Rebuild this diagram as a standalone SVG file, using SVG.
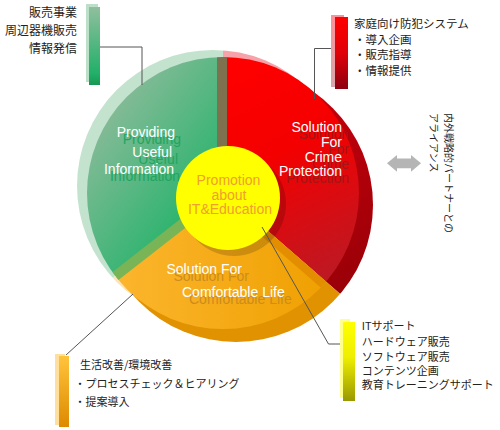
<svg xmlns="http://www.w3.org/2000/svg" xmlns:xlink="http://www.w3.org/1999/xlink" width="500" height="430" viewBox="0 0 500 430">
<style>
.lat{font-family:"Liberation Sans",Arial,sans-serif;font-size:14px}
.w{fill:#ffffff}
.shG{fill:#22a55f}
.shR{fill:#a31616}
.shO{fill:#cc8c1e}
.jp{font-family:"Noto Sans CJK JP","Noto Sans CJK SC",sans-serif;fill:#222222}
.conn{fill:none;stroke:#555555;stroke-width:1}
</style>
<defs>
<path id="wR" d="M223,192 L223,-28 A220,220 0 0 1 389,336.3 Z"/>
<path id="wO" d="M223,192 L389,336.3 A220,220 0 0 1 49.6,327.4 Z"/>
<path id="wG" d="M223,192 L49.6,327.4 A220,220 0 0 1 223,-28 Z"/>
<clipPath id="cBack"><circle cx="213" cy="186" r="136"/></clipPath>
<clipPath id="cRim"><circle cx="236" cy="205" r="137"/></clipPath>
<clipPath id="cFace"><circle cx="223" cy="193" r="136"/></clipPath>
<linearGradient id="gGface" gradientUnits="userSpaceOnUse" x1="95" y1="110" x2="215" y2="200">
<stop offset="0" stop-color="#8dbb9b"/><stop offset="1" stop-color="#24b36a"/></linearGradient>
<linearGradient id="gRface" gradientUnits="userSpaceOnUse" x1="235" y1="60" x2="345" y2="290">
<stop offset="0" stop-color="#ff0000"/><stop offset="0.4" stop-color="#f40000"/><stop offset="1" stop-color="#b51c28"/></linearGradient>
<linearGradient id="gOface" gradientUnits="userSpaceOnUse" x1="110" y1="0" x2="330" y2="0">
<stop offset="0" stop-color="#fcb62f"/><stop offset="1" stop-color="#efa000"/></linearGradient>
<linearGradient id="gRrim" gradientUnits="userSpaceOnUse" x1="300" y1="100" x2="370" y2="280">
<stop offset="0" stop-color="#c4000c"/><stop offset="1" stop-color="#9a0008"/></linearGradient>
<linearGradient id="gBarG" x1="0" y1="0" x2="0" y2="1">
<stop offset="0" stop-color="#90bf9e"/><stop offset="0.85" stop-color="#22b068"/><stop offset="1" stop-color="#179852"/></linearGradient>
<linearGradient id="gBarR" x1="0" y1="0" x2="0" y2="1">
<stop offset="0" stop-color="#ff0000"/><stop offset="0.5" stop-color="#e00008"/><stop offset="1" stop-color="#8c0010"/></linearGradient>
<linearGradient id="gBarY" x1="0" y1="0" x2="0" y2="1">
<stop offset="0" stop-color="#ffff00"/><stop offset="0.45" stop-color="#eeee00"/><stop offset="1" stop-color="#9a9800"/></linearGradient>
<linearGradient id="gBarO" x1="0" y1="0" x2="0" y2="1">
<stop offset="0" stop-color="#ffc43c"/><stop offset="1" stop-color="#dd8a00"/></linearGradient>
<linearGradient id="gLbarR" x1="0" y1="0" x2="0" y2="1">
<stop offset="0" stop-color="#ff8f98"/><stop offset="1" stop-color="#d9a6ac"/></linearGradient>
</defs>

<g id="segment-info">
<use xlink:href="#wG" clip-path="url(#cBack)" fill="#c4e3cf"/>
<use xlink:href="#wG" clip-path="url(#cRim)" fill="#1f9d5a"/>
<use xlink:href="#wG" clip-path="url(#cFace)" fill="url(#gGface)"/>
<g class="lat shG" text-anchor="end">
<text x="181" y="144">Providing</text>
<text x="178" y="163.5">Useful</text>
<text x="180" y="181">Information</text>
</g>
<g class="lat w" text-anchor="end">
<text x="175" y="137">Providing</text>
<text x="172" y="156.5">Useful</text>
<text x="174" y="174">Information</text>
</g>
</g>

<g id="segment-crime">
<use xlink:href="#wR" clip-path="url(#cBack)" fill="#f7a2a9"/>
<use xlink:href="#wR" clip-path="url(#cRim)" fill="url(#gRrim)"/>
<use xlink:href="#wR" clip-path="url(#cFace)" fill="url(#gRface)"/>
<g class="lat shR" text-anchor="end">
<text x="349" y="139">Solution</text>
<text x="349" y="154">For</text>
<text x="349" y="168.5">Crime</text>
<text x="349" y="183">Protection</text>
</g>
<g class="lat w" text-anchor="end">
<text x="342" y="132">Solution</text>
<text x="342" y="147">For</text>
<text x="342" y="161.5">Crime</text>
<text x="342" y="176">Protection</text>
</g>
</g>

<g id="segment-life">
<use xlink:href="#wO" clip-path="url(#cBack)" fill="#fde3b5"/>
<use xlink:href="#wO" clip-path="url(#cRim)" fill="#e09200"/>
<use xlink:href="#wO" clip-path="url(#cFace)" fill="url(#gOface)"/>
<g class="lat shO">
<text x="173.5" y="280.5">Solution For</text>
<text x="189" y="304">Comfortable Life</text>
</g>
<g class="lat w">
<text x="166.5" y="273.5">Solution For</text>
<text x="182" y="297">Comfortable Life</text>
</g>
</g>

<g id="dividers" clip-path="url(#cFace)">
<rect x="217" y="50" width="10" height="144" fill="#7e7150"/>
<polygon points="219.9,188.1 46.5,323.5 52.7,331.3 226.1,195.9" fill="#79b456"/>
<polygon points="223,192 389,336.3 383.75,342.3 217.75,198" fill="#e38d00"/>
</g>

<g id="center">
<circle cx="234" cy="204" r="52" fill="#000000" opacity="0.16"/>
<circle cx="228" cy="198" r="52" fill="#ffff00"/>
<g class="lat" fill="#f0a02e" text-anchor="middle">
<text x="228.5" y="185">Promotion</text>
<text x="229" y="199.5">about</text>
<text x="230" y="214">IT&amp;Education</text>
</g>
</g>

<g id="connectors" class="conn">
<polyline points="100,47 142,47 142,85"/>
<polyline points="338,48.5 314.5,48.5 314.5,99"/>
<polyline points="262,227 328.5,344 343,344"/>
<line x1="133" y1="294" x2="66" y2="355"/>
</g>

<g id="callout-info">
<rect x="86" y="4" width="12" height="78" fill="#bcdfc8"/>
<rect x="89" y="7" width="11" height="78" fill="url(#gBarG)"/>
<g class="jp" font-size="12" text-anchor="end">
<text x="77" y="17.3">販売事業</text>
<text x="77" y="35.3">周辺器機販売</text>
<text x="77" y="53">情報発信</text>
</g>
</g>

<g id="callout-crime">
<rect x="331" y="15" width="13" height="72" fill="url(#gLbarR)"/>
<rect x="335" y="17" width="13" height="72" fill="url(#gBarR)"/>
<g class="jp" font-size="11.5">
<text x="354" y="27.7">家庭向け防犯システム</text>
<text x="354" y="43.7">・導入企画</text>
<text x="354" y="58.7">・販売指導</text>
<text x="354" y="75.4">・情報提供</text>
</g>
</g>

<g id="callout-it">
<rect x="340" y="319" width="10" height="79" fill="#ffff90"/>
<rect x="343" y="322" width="12" height="79" fill="url(#gBarY)"/>
<g class="jp" font-size="11">
<text x="361.7" y="330.2">ITサポート</text>
<text x="361.7" y="346.2">ハードウェア販売</text>
<text x="361.7" y="360.5">ソフトウェア販売</text>
<text x="361.7" y="374.7">コンテンツ企画</text>
<text x="361.7" y="388.5">教育トレーニングサポート</text>
</g>
</g>

<g id="callout-life">
<rect x="55" y="354" width="10" height="71" fill="#ffdf9e"/>
<rect x="59" y="356" width="10" height="71" fill="url(#gBarO)"/>
<g class="jp" font-size="11">
<text x="80" y="369.2">生活改善/環境改善</text>
<text x="74.5" y="387.5">・プロセスチェック＆ヒアリング</text>
<text x="74.5" y="405.9">・提案導入</text>
</g>
</g>

<g id="alliance">
<polygon points="387,163.3 397,155 397,158.5 411,158.5 411,155 421,163.3 411,171.7 411,168.2 397,168.2 397,171.7" fill="#b5b5b5"/>
<g class="jp" font-size="10" fill="#333333">
<text transform="translate(444.5,113) rotate(90)">内外戦略的パートナーとの</text>
<text transform="translate(429.5,113) rotate(90)">アライアンス</text>
</g>
</g>
</svg>
